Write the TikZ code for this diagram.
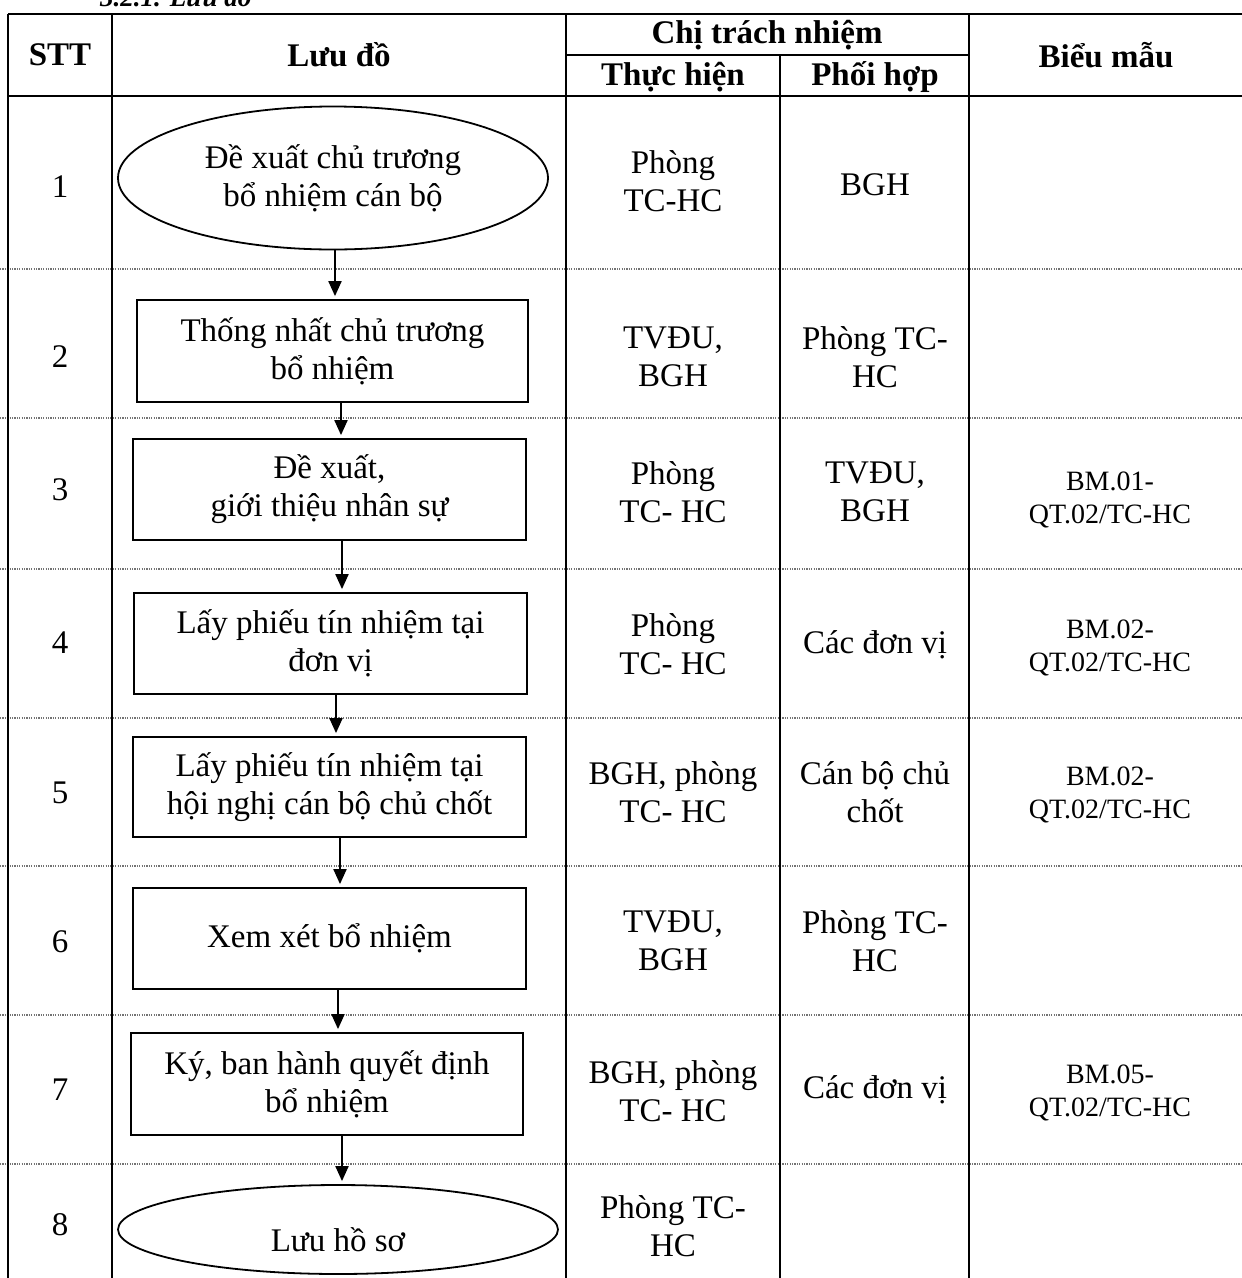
\documentclass[tikz,border=0pt]{standalone}
\usepackage{fontspec}
\setmainfont{Liberation Serif}
\usetikzlibrary{shapes.geometric,arrows.meta}
\newcommand\txtbody{\fontsize{33}{38}\selectfont}
\newcommand\txthdr{\fontsize{33}{38}\selectfont\bfseries}
\newcommand\txtbm{\fontsize{28}{33}\selectfont}
\newcommand\txttitle{\fontsize{27}{30}\selectfont\bfseries\itshape}
\begin{document}
\begin{tikzpicture}[x=1pt,y=-1pt,
  tline/.style={line width=2.4pt},
  rowsep/.style={line width=1.1pt, black!55, dash pattern=on 1.2pt off 1.2pt},
  flowbox/.style={draw, line width=1.8pt, rectangle, inner sep=0pt, minimum width=393pt, minimum height=101pt, align=center, font=\txtbody},
  flowell/.style={draw, line width=1.8pt, ellipse, inner sep=0pt, align=center, font=\txtbody},
  arr/.style={line width=2pt, -{Triangle[length=15pt,width=13pt]}, shorten >=3pt},
  hdr/.style={font=\txthdr, align=center, inner sep=0pt},
  cell/.style={font=\txtbody, align=center, inner sep=0pt},
  bm/.style={font=\txtbm, align=center, inner sep=0pt},
]
\clip (0,0) rectangle (1242,1278);
\fill[white] (0,0) rectangle (1242,1278);

% cut-off section title
\node[font=\txttitle, anchor=base west, inner sep=0pt] (title) at (100,6) {3.2.1. Lưu đồ};

% row separators (dotted)
\foreach \yy in {269,418,569,718,866,1015,1164}
  \draw[rowsep] (0,\yy) -- (1242,\yy);

% table frame
\draw[tline] (8,14) -- (1242,14);
\draw[tline] (566,55) -- (969,55);
\draw[tline] (8,96) -- (1242,96);
\draw[tline] (8,14) -- (8,1278);
\draw[tline] (112,14) -- (112,1278);
\draw[tline] (566,14) -- (566,1278);
\draw[tline] (780,55) -- (780,1278);
\draw[tline] (969,14) -- (969,1278);

% header
\node[hdr] (hstt) at (60,55) {STT};
\node[hdr] (hluu) at (339,55) {Lưu đồ};
\node[hdr] (hctn) at (767,35) {Chị trách nhiệm};
\node[hdr] (hth) at (673,77) {Thực hiện};
\node[hdr] (hph) at (875,77) {Phối hợp};
\node[hdr] (hbm) at (1106,55) {Biểu mẫu};

% row numbers
\node[cell] (n1) at (60,187) {1};
\node[cell] (n2) at (60,357) {2};
\node[cell] (n3) at (60,490) {3};
\node[cell] (n4) at (60,643) {4};
\node[cell] (n5) at (60,793) {5};
\node[cell] (n6) at (60,942) {6};
\node[cell] (n7) at (60,1090) {7};
\node[cell] (n8) at (60,1225) {8};

% flow shapes
\node[flowell, minimum width=430pt, minimum height=143pt] (e1) at (333,178) {Đề xuất chủ trương\\bổ nhiệm cán bộ};
\node[flowbox, minimum width=391pt, minimum height=102pt] (b2) at (332.5,351) {Thống nhất chủ trương\\bổ nhiệm};
\node[flowbox] (b3) at (329.5,489.5) {Đề xuất,\\giới thiệu nhân sự};
\node[flowbox] (b4) at (330.5,643.5) {Lấy phiếu tín nhiệm tại\\đơn vị};
\node[flowbox, minimum height=100pt] (b5) at (329.5,787) {Lấy phiếu tín nhiệm tại\\hội nghị cán bộ chủ chốt};
\node[flowbox] (b6) at (329.5,938.5) {Xem xét bổ nhiệm};
\node[flowbox, minimum width=392pt, minimum height=102pt] (b7) at (327,1084) {Ký, ban hành quyết định\\bổ nhiệm};
\node[flowell, minimum width=440pt, minimum height=89pt] (e8) at (338,1229.5) {};
\node[cell] (e8t) at (338,1240) {Lưu hồ sơ};

% connectors
\draw[arr] ([xshift=2pt]e1.south) -- ([xshift=2.5pt]b2.north);
\draw[arr] ([xshift=8.5pt]b2.south) -- ([xshift=11.5pt]b3.north);
\draw[arr] ([xshift=12.5pt]b3.south) -- ([xshift=11.5pt]b4.north);
\draw[arr] ([xshift=5.5pt]b4.south) -- ([xshift=6.5pt]b5.north);
\draw[arr] ([xshift=10.5pt]b5.south) -- ([xshift=10.5pt]b6.north);
\draw[arr] ([xshift=8.5pt]b6.south) -- ([xshift=11pt]b7.north);
\draw[arr] ([xshift=15pt]b7.south) -- ([xshift=4pt]e8.north);

% Thực hiện column
\node[cell] (t1) at (673,181) {Phòng\\TC-HC};
\node[cell] (t2) at (673,357) {TVĐU,\\BGH};
\node[cell] (t3) at (673,492) {Phòng\\TC- HC};
\node[cell] (t4) at (673,644) {Phòng\\TC- HC};
\node[cell] (t5) at (673,792) {BGH, phòng\\TC- HC};
\node[cell] (t6) at (673,941) {TVĐU,\\BGH};
\node[cell] (t7) at (673,1091) {BGH, phòng\\TC- HC};
\node[cell] (t8) at (673,1226) {Phòng TC-\\HC};

% Phối hợp column
\node[cell] (p1) at (875,185) {BGH};
\node[cell] (p2) at (875,357) {Phòng TC-\\HC};
\node[cell] (p3) at (875,492) {TVĐU,\\BGH};
\node[cell] (p4) at (875,645) {Các đơn vị};
\node[cell] (p5) at (875,792) {Cán bộ chủ\\chốt};
\node[cell] (p6) at (875,941) {Phòng TC-\\HC};
\node[cell] (p7) at (875,1090) {Các đơn vị};

% Biểu mẫu column
\node[bm] (m3) at (1110,500) {BM.01-\\QT.02/TC-HC};
\node[bm] (m4) at (1110,648) {BM.02-\\QT.02/TC-HC};
\node[bm] (m5) at (1110,795) {BM.02-\\QT.02/TC-HC};
\node[bm] (m7) at (1110,1093) {BM.05-\\QT.02/TC-HC};
\end{tikzpicture}
\end{document}
